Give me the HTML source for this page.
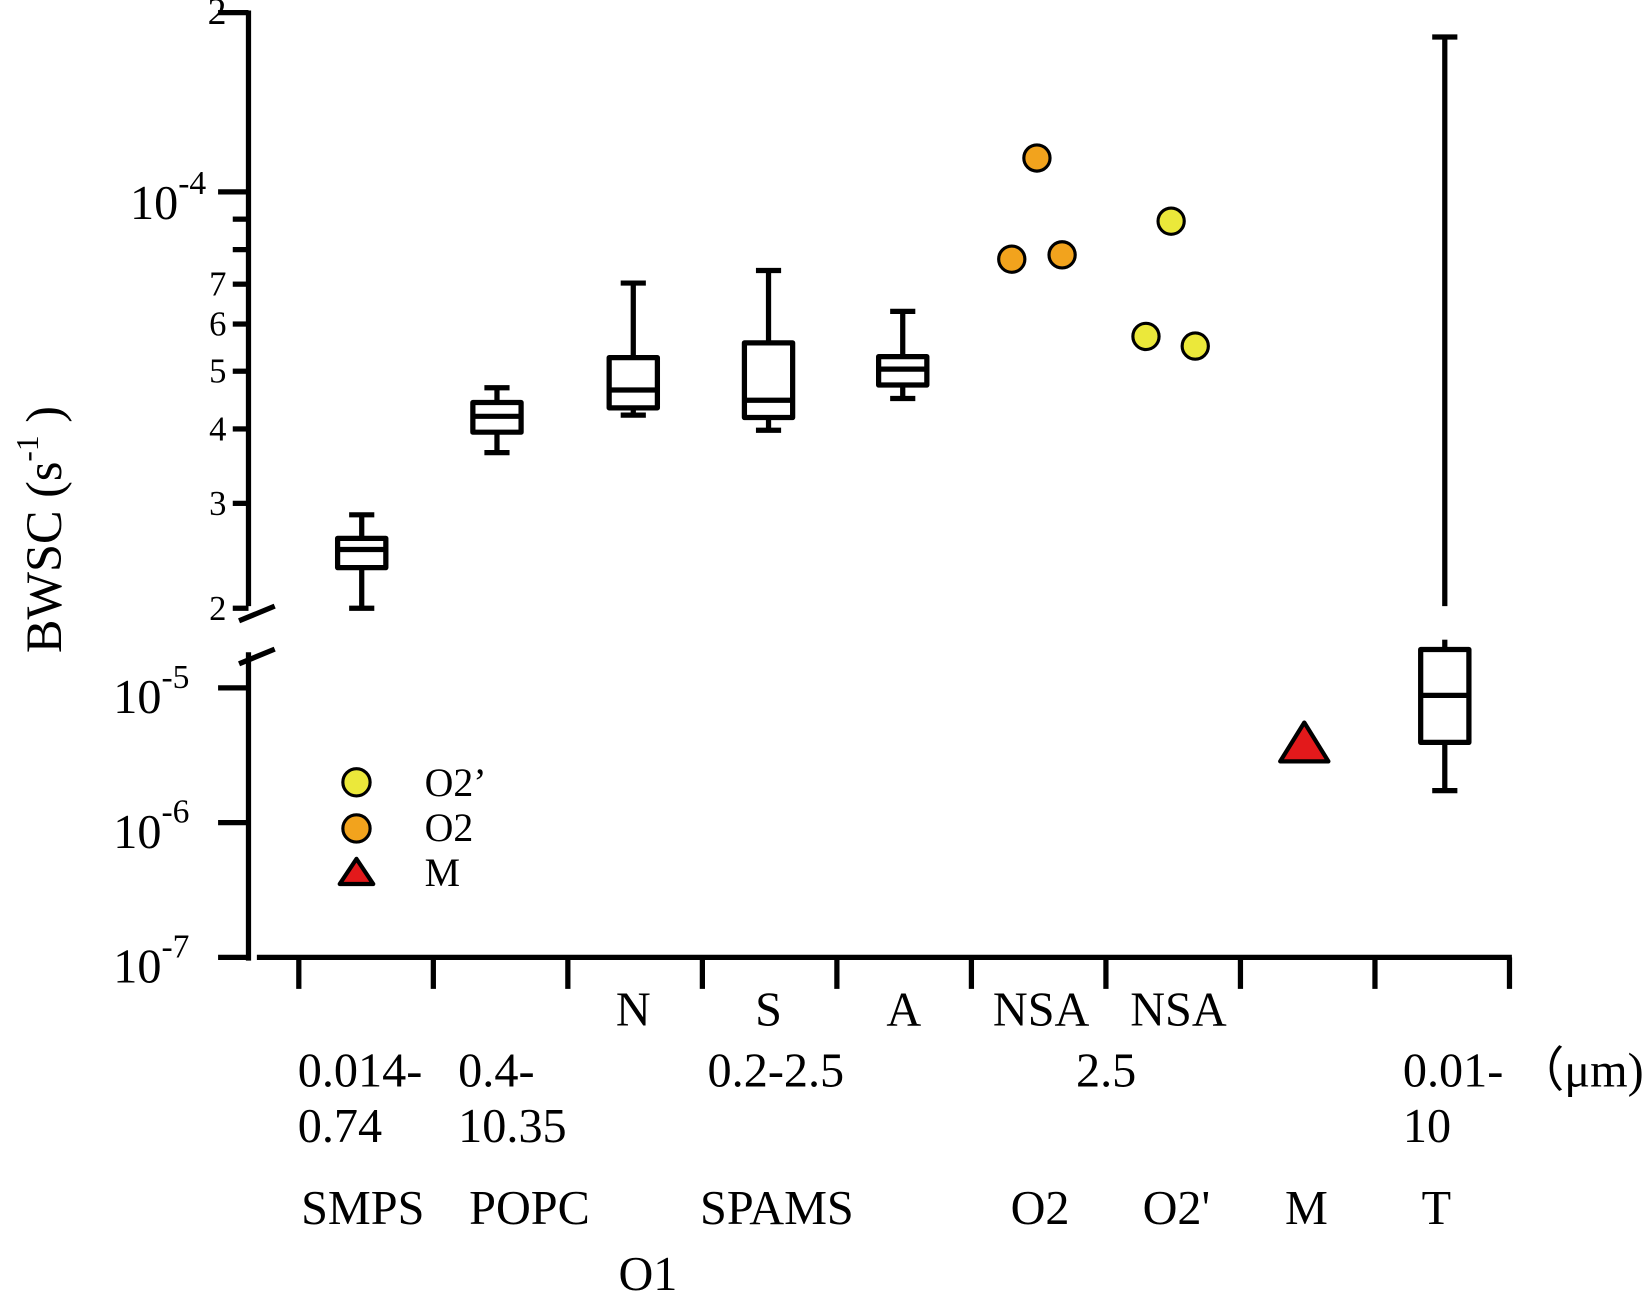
<!DOCTYPE html>
<html><head><meta charset="utf-8"><style>
html,body{margin:0;padding:0;background:#fff;}
svg{display:block;font-family:"Liberation Serif",serif;}
</style></head><body>
<svg id="chart" width="1644" height="1293" viewBox="0 0 1568 1233" preserveAspectRatio="none" xmlns="http://www.w3.org/2000/svg">
<g id="axes" stroke="#000" stroke-width="5" fill="none">
  <line x1="237" y1="10" x2="237" y2="578"/>
  <line x1="237" y1="622" x2="237" y2="916"/>
  <line x1="228" y1="592" x2="262" y2="578"/>
  <line x1="228" y1="633" x2="262" y2="619"/>
  <line x1="245" y1="913" x2="1442" y2="913"/>
</g>
<g id="yticks"></g>
<g id="xticks"></g>
<g id="marks"></g>
<text transform="translate(58,505) rotate(-90)" text-anchor="middle" font-size="48">BWSC (s<tspan dy="-22" font-size="30">-1</tspan><tspan dy="22"> )</tspan></text>
<g font-size="38">
  <circle cx="340" cy="746" r="13" fill="#EBE83A" stroke="#000" stroke-width="3"/>
  <text x="405" y="759">O2’</text>
  <circle cx="340" cy="790" r="13" fill="#F2A31D" stroke="#000" stroke-width="3"/>
  <text x="405" y="802">O2</text>
  <polygon points="340,819 324,843 356,843" fill="#E3191B" stroke="#000" stroke-width="4" stroke-linejoin="round"/>
  <text x="405" y="845">M</text>
</g>
<g font-size="46">
  <text x="604" y="978" text-anchor="middle">N</text>
  <text x="733" y="978" text-anchor="middle">S</text>
  <text x="862" y="978" text-anchor="middle">A</text>
  <text x="993" y="978" text-anchor="middle">NSA</text>
  <text x="1124" y="978" text-anchor="middle">NSA</text>
  <text x="284" y="1036">0.014-</text>
  <text x="437" y="1036">0.4-</text>
  <text x="740" y="1036" text-anchor="middle">0.2-2.5</text>
  <text x="1055" y="1036" text-anchor="middle">2.5</text>
  <text x="1338" y="1036">0.01-</text>
  <text x="1446" y="1036">（μm)</text>
  <text x="284" y="1089">0.74</text>
  <text x="437" y="1089">10.35</text>
  <text x="1338" y="1089">10</text>
  <text x="346" y="1167" text-anchor="middle">SMPS</text>
  <text x="505" y="1167" text-anchor="middle">POPC</text>
  <text x="741" y="1167" text-anchor="middle">SPAMS</text>
  <text x="992" y="1167" text-anchor="middle">O2</text>
  <text x="1122" y="1167" text-anchor="middle">O2'</text>
  <text x="1246" y="1167" text-anchor="middle">M</text>
  <text x="1370" y="1167" text-anchor="middle">T</text>
  <text x="618" y="1230" text-anchor="middle">O1</text>
</g>
</svg>
<script>
var boxNames = ['SMPS','POPC','N','S','A','T'];
var boxX = [345,474,604,733,861,1378];
var boxMax = [2.87e-5,4.69e-5,7.03e-5,7.38e-5,6.3e-5,1.82e-4];
var boxQ3 = [2.62e-5,4.43e-5,5.27e-5,5.58e-5,5.29e-5,1.93e-5];
var boxMed = [2.51e-5,4.2e-5,4.65e-5,4.47e-5,5.04e-5,8.8e-6];
var boxQ1 = [2.34e-5,3.95e-5,4.34e-5,4.18e-5,4.74e-5,3.94e-6];
var boxMin = [2.0e-5,3.65e-5,4.22e-5,3.98e-5,4.5e-5,1.73e-6];
var o2X = [965,989,1013];
var o2Vals = [7.71e-5,1.14e-4,7.84e-5];
var o2pX = [1093,1117,1140];
var o2pVals = [5.72e-5,8.93e-5,5.51e-5];
var mX = [1244];
var mVals = [3.6e-6];
var upperTicks = [2e-4,9e-5,8e-5,7e-5,6e-5,5e-5,4e-5,3e-5,2e-5];
var upperTickLabels = ['2','','','7','6','5','4','3','2'];
var lowerTicks = [1e-5,1e-6,1e-7];
var lowerTickExp = ['-5','-6','-7'];

var NS='http://www.w3.org/2000/svg';
var BREAK = 1.95e-5;
function yScale(v){
  if(v>=BREAK) return 183 - 568*Math.log10(v/1e-4);
  return 656 - 128.5*Math.log10(v/1e-5);
}
function mk(tag,attrs,parent){var e=document.createElementNS(NS,tag);for(var k in attrs)e.setAttribute(k,attrs[k]);parent.appendChild(e);return e;}

var yt=document.getElementById('yticks');
upperTicks.forEach(function(v,i){
  var y=yScale(v);var major=(i===0);
  var l=mk('line',{x1:major?208:222,y1:y,x2:237,y2:y,stroke:'#000','stroke-width':5},yt);
  
  
  if(upperTickLabels[i]){
    var t=mk('text',{x:216,y:y+11,'text-anchor':'end','font-size':major?36:33},yt);
    t.textContent=upperTickLabels[i];
    
    
  }
});
(function(){
  var y=yScale(1e-4);
  var l=mk('line',{x1:208,y1:y,x2:237,y2:y,stroke:'#000','stroke-width':5},yt);
  
  
  var t=mk('text',{x:124,y:y+26,'font-size':46},yt);
  t.innerHTML='10<tspan dy="-24" font-size="32">-4</tspan>';
  
  
})();
lowerTicks.forEach(function(v,i){
  var y=yScale(v);
  var l=mk('line',{x1:208,y1:y,x2:237,y2:y,stroke:'#000','stroke-width':5},yt);
  
  
  var t=mk('text',{x:108,y:y+24,'font-size':46},yt);
  t.innerHTML='10<tspan dy="-24" font-size="32">'+lowerTickExp[i]+'</tspan>';
  
  
});

var xt=document.getElementById('xticks');
for(var i=0;i<10;i++){
  var x=285+i*128.3;
  var l=mk('line',{x1:x,y1:913,x2:x,y2:943,stroke:'#000','stroke-width':5},xt);
  
  
}

var mg=document.getElementById('marks');
boxNames.forEach(function(n,i){
  var g=mk('g',{stroke:'#000','stroke-width':5,fill:'none'},mg);
  
  
  var x=boxX[i];
  var hw=23;
  var yMax=yScale(boxMax[i]),yQ3=yScale(boxQ3[i]),yMed=yScale(boxMed[i]),yQ1=yScale(boxQ1[i]),yMin=yScale(boxMin[i]);
  if(yMax<578 && yQ3>600){
    mk('line',{x1:x,y1:yMax,x2:x,y2:578},g);
    mk('line',{x1:x,y1:610,x2:x,y2:yQ3},g);
  } else mk('line',{x1:x,y1:yMax,x2:x,y2:yQ3},g);
  mk('line',{x1:x-12,y1:yMax,x2:x+12,y2:yMax},g);
  mk('line',{x1:x,y1:yQ1,x2:x,y2:yMin},g);
  mk('line',{x1:x-12,y1:yMin,x2:x+12,y2:yMin},g);
  mk('rect',{x:x-hw,y:yQ3,width:hw*2,height:yQ1-yQ3,fill:'#fff','stroke-linejoin':'round'},g);
  mk('line',{x1:x-hw,y1:yMed,x2:x+hw,y2:yMed},g);
});
function pts(xs,vals,fill,name){
  xs.forEach(function(x,i){
    var c=mk('circle',{cx:x,cy:yScale(vals[i]),r:12.5,fill:fill,stroke:'#000','stroke-width':3},mg);
    
    
  });
}
pts(o2X,o2Vals,'#F2A31D','point-o2');
pts(o2pX,o2pVals,'#EBE83A','point-o2prime');
mX.forEach(function(x,i){
  var y=yScale(mVals[i]);
  var p=mk('polygon',{points:x+','+(y-24)+' '+(x-23)+','+(y+13)+' '+(x+23)+','+(y+13),fill:'#E3191B',stroke:'#000','stroke-width':4,'stroke-linejoin':'round'},mg);
  
  
});
</script>
</body></html>
